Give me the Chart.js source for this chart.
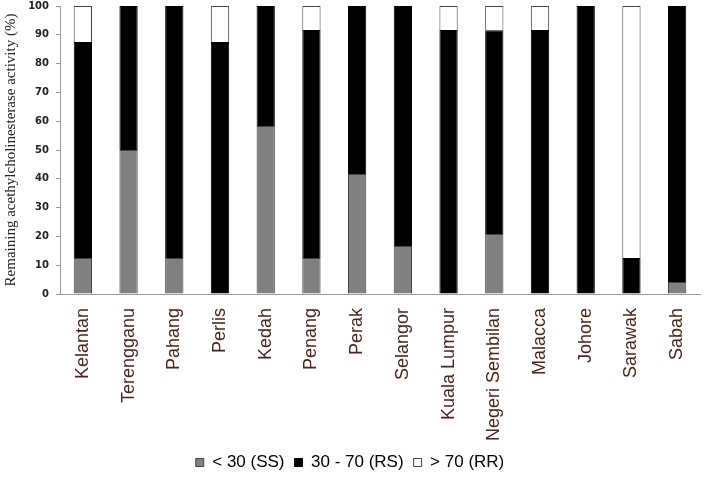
<!DOCTYPE html>
<html>
<head>
<meta charset="utf-8">
<script src="https://cdn.jsdelivr.net/npm/chart.js@4"></script>
<style>
  html, body { margin: 0; padding: 0; background: #fff; }
  #wrap { width: 716px; height: 481px; }
</style>
</head>
<body>
<div id="wrap"><canvas id="resistChart" width="716" height="481"></canvas></div>
<script>
// States sampled
const states = ['Kelantan', 'Terengganu', 'Pahang', 'Perlis', 'Kedah', 'Penang', 'Perak',
  'Selangor', 'Kuala Lumpur', 'Negeri Sembilan', 'Malacca', 'Johore', 'Sarawak', 'Sabah'];

// Percentage of samples in each activity class
const ss = [12.5, 50, 12.5, 0, 58.3, 12.5, 41.7, 16.7, 0, 20.8, 0, 0, 0, 4.2];      // < 30 (SS)
const rs = [75, 50, 87.5, 87.5, 41.7, 79.2, 58.3, 83.3, 91.7, 70.8, 91.7, 100, 12.5, 95.8]; // 30 - 70 (RS)
const rr = [12.5, 0, 0, 12.5, 0, 8.3, 0, 0, 8.3, 8.4, 8.3, 0, 87.5, 0];             // > 70 (RR)

const yTicks = [0, 10, 20, 30, 40, 50, 60, 70, 80, 90, 100];

const ctx = document.getElementById('resistChart').getContext('2d');
new Chart(ctx, {
  type: 'bar',
  data: {
    labels: states,
    datasets: [
      { label: '< 30 (SS)', data: ss, backgroundColor: '#808080', borderColor: '#444', borderWidth: 1 },
      { label: '30 - 70 (RS)', data: rs, backgroundColor: '#000000', borderColor: '#000', borderWidth: 1 },
      { label: '> 70 (RR)', data: rr, backgroundColor: '#ffffff', borderColor: '#444', borderWidth: 1 }
    ]
  },
  options: {
    responsive: false,
    animation: false,
    layout: { padding: { top: 0, right: 16, left: 0, bottom: 0 } },
    datasets: { bar: { barPercentage: 0.4, categoryPercentage: 1 } },
    plugins: {
      legend: {
        position: 'bottom',
        labels: {
          boxWidth: 8,
          boxHeight: 8,
          padding: 10,
          color: '#000',
          font: { family: '"Liberation Sans Narrow", "Liberation Sans", Arial', size: 17 }
        }
      },
      tooltip: { enabled: false }
    },
    scales: {
      x: {
        stacked: true,
        afterFit: s => { s.height = 150; },
        border: { color: '#999', width: 1 },
        grid: { display: false },
        ticks: {
          minRotation: 90,
          maxRotation: 90,
          autoSkip: false,
          padding: 6,
          color: '#4f231b',
          font: { family: '"Liberation Sans", Arial', size: 18 }
        }
      },
      y: {
        stacked: true,
        min: 0,
        max: 100,
        afterFit: s => { s.width = 60; s.paddingTop = 6; s.paddingBottom = 0; },
        afterBuildTicks: s => { s.ticks = yTicks.map(v => ({ value: v })); },
        border: { color: '#999', width: 1 },
        grid: { drawOnChartArea: false, color: '#999', tickLength: 4 },
        ticks: {
          padding: 7,
          color: '#222',
          font: { family: '"DejaVu Sans", Verdana', size: 10, weight: 'bold' }
        },
        title: {
          display: true,
          text: 'Remaining acethylcholinesterase activity (%)',
          color: '#222',
          padding: { top: 2, bottom: 2 },
          font: { family: '"Liberation Serif", "Times New Roman"', size: 15 }
        }
      }
    }
  }
});
</script>
</body>
</html>
